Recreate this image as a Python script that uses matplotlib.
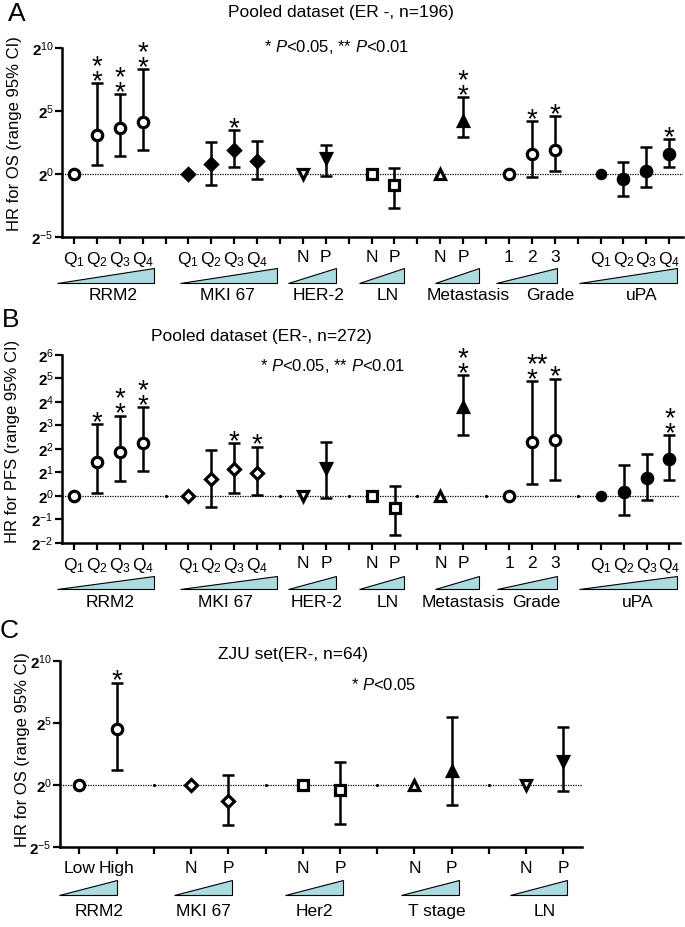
import matplotlib
matplotlib.use("Agg")
import matplotlib.pyplot as plt
import matplotlib.transforms as mtransforms
from matplotlib.patches import Polygon

plt.rcParams["font.family"] = ["Liberation Sans", "DejaVu Sans"]
plt.rcParams["mathtext.fontset"] = "custom"
plt.rcParams["mathtext.rm"] = "Liberation Sans"
plt.rcParams["mathtext.it"] = "Liberation Sans:italic"
plt.rcParams["mathtext.bf"] = "Liberation Sans:bold"

Q4 = ["Q$_1$", "Q$_2$", "Q$_3$", "Q$_4$"]
NP = ["N", "P"]

# ---- panel A: pooled dataset, OS (ER-, n=196)
a_groups = ["RRM2", "MKI 67", "HER-2", "LN", "Metastasis", "Grade", "uPA"]
a_levels = [Q4, Q4, NP, NP, NP, ["1", "2", "3"], Q4]
a_hr = [[1, 8.6, 12.6, 17.8], [1, 1.74, 3.73, 2.0], [1, 2.41], [1, 0.55],
        [1, 18.4], [1, 2.97, 3.81], [1, 0.75, 1.15, 2.97]]
a_lo = [[1, 1.62, 2.73, 3.81], [1, 0.56, 1.49, 0.76], [1, 0.88], [1, 0.15],
        [1, 7.46], [1, 0.87, 1.15], [1, 0.30, 0.50, 1.44]]
a_hi = [[1, 147, 81.6, 315], [1, 5.66, 11.3, 6.28], [1, 5.03], [1, 1.37],
        [1, 68.6], [1, 18.4, 24.3], [1, 1.95, 4.53, 6.82]]
a_stars = [["", "**", "**", "**"], ["", "", "*", ""], ["", ""], ["", ""],
           ["", "**"], ["", "*", "*"], ["", "", "", "*"]]

# ---- panel B: pooled dataset, PFS (ER-, n=272)
b_groups = a_groups
b_levels = a_levels
b_hr = [[1, 2.73, 3.66, 4.72], [1, 1.64, 2.19, 1.95], [1, 2.30], [1, 0.69],
        [1, 13.8], [1, 4.92, 5.21], [1, 1.13, 1.67, 2.95]]
b_lo = [[1, 1.08, 1.53, 2.06], [1, 0.71, 1.10, 1.02], [1, 0.93], [1, 0.31],
        [1, 6.06], [1, 1.43, 1.59], [1, 0.56, 0.88, 1.59]]
b_hi = [[1, 8.28, 10.6, 13.8], [1, 3.84, 4.69, 4.26], [1, 4.92], [1, 1.32],
        [1, 35.0], [1, 29.6, 31.8], [1, 2.46, 3.41, 5.98]]
b_stars = [["", "*", "**", "**"], ["", "", "*", "*"], ["", ""], ["", ""],
           ["", "**"], ["", "***", "*"], ["", "", "", "**"]]

# ---- panel C: ZJU set, OS (ER-, n=64)
c_groups = ["RRM2", "MKI 67", "Her2", "T stage", "LN"]
c_levels = [["Low", "High"], NP, NP, NP, NP]
c_hr = [[1, 22.6], [1, 0.41], [1, 0.76], [1, 2.11], [1, 3.71]]
c_lo = [[1, 2.23], [1, 0.106], [1, 0.112], [1, 0.325], [1, 0.69]]
c_hi = [[1, 302], [1, 1.69], [1, 3.51], [1, 44.9], [1, 25.6]]
c_stars = [["", "*"], ["", ""], ["", ""], ["", ""], ["", ""]]

# marker styles
ab_marker = ["o", "D", "v", "s", "^", "o", "o"]
a_filled = [[0, 0, 0, 0], [1, 1, 1, 1], [0, 1], [0, 0], [0, 1], [0, 0, 0], [1, 1, 1, 1]]
b_filled = [[0, 0, 0, 0], [0, 0, 0, 0], [0, 1], [0, 0], [0, 1], [0, 0, 0], [1, 1, 1, 1]]
c_marker = ["o", "D", "s", "^", "v"]
c_filled = [[0, 0], [0, 0], [0, 0], [0, 1], [0, 1]]

W, H = 685, 927
fig = plt.figure(figsize=(W / 100, H / 100), dpi=100)
TRI = "#aadbe0"
STAR_FS = 20
STAR_BASE = -8.5   # points above the cap
STAR_LS = 0.45     # line spacing of stacked stars


def make_ax(l, r, t, b):
    return fig.add_axes([l / W, 1 - b / H, (r - l) / W, (b - t) / H]), b - t


def put_stars(ax, x, y, s):
    n = len(s)
    if n == 3:
        # two on top, one below (left-aligned)
        ax.annotate("**\n*", (x, y), xytext=(-3.9, STAR_BASE), textcoords="offset points",
                    ha="left", va="bottom", multialignment="left",
                    fontsize=STAR_FS, linespacing=STAR_LS, annotation_clip=False)
        return
    txt = "*\n*" if n == 2 else "*"
    ax.annotate(txt, (x, y), xytext=(0, STAR_BASE), textcoords="offset points",
                ha="center", va="bottom", fontsize=STAR_FS,
                linespacing=STAR_LS, annotation_clip=False)


def draw_panel(ax, hpx, levels, hr, lo, hi, stars, markers, filled,
               xlim, ylim, yticks, tri_spans, grp_names, grp_x, offs, gap_dots):
    blend = mtransforms.blended_transform_factory(ax.transData, ax.transAxes)
    ax.set_yscale("log", base=2)
    ax.axhline(1, color="black", ls=(0, (1, 1)), lw=0.9, zorder=1)
    pos = 0
    ticks, labels, gaps = [], [], []
    for g in range(len(levels)):
        for j, lab in enumerate(levels[g]):
            h, l, u = hr[g][j], lo[g][j], hi[g][j]
            mfc = "black" if filled[g][j] else "white"
            ms = 7.5
            if markers[g] == "D":
                ms = 6.5
            if markers[g] == "o" and filled[g][j] and j == 0:
                ms = 6
            if u != l:
                ax.errorbar(pos, h, yerr=[[h - l], [u - h]], fmt="none",
                            ecolor="black", elinewidth=1.8, capsize=4.5,
                            capthick=1.8, zorder=2)
            ax.plot(pos, h, marker=markers[g], ms=ms, mfc=mfc, mec="black",
                    mew=2.3, ls="none", zorder=3)
            if stars[g][j]:
                put_stars(ax, pos, u, stars[g][j])
            ticks.append(pos)
            labels.append(lab)
            pos += 1
        if g < len(levels) - 1:
            ticks.append(pos)
            labels.append("")
            gaps.append(pos)
            pos += 1
    if gap_dots:
        ax.plot(gaps, [1] * len(gaps), ".", color="black", ms=2.5, zorder=2)

    ax.set_xlim(*xlim)
    ax.set_ylim(*ylim)
    ax.set_xticks(ticks)
    ax.set_xticklabels(labels, fontsize=12.5)
    ax.set_yticks([2.0 ** e for e in yticks])
    ax.set_yticklabels([r"$\mathbf{2}^{%d}$" % e for e in yticks], fontsize=11)
    ax.minorticks_off()
    for sp in ["top", "right"]:
        ax.spines[sp].set_visible(False)
    for sp in ["left", "bottom"]:
        ax.spines[sp].set_linewidth(1.8)
    ax.tick_params(axis="x", length=5, width=1.6, pad=offs[0])
    ax.tick_params(axis="y", length=5, width=1.6, pad=1)

    yb = -offs[2] / hpx
    yt = -offs[1] / hpx
    for x0, x1 in tri_spans:
        ax.add_patch(Polygon([(x0, yb), (x1, yb), (x1, yt)], closed=True,
                             facecolor=TRI, edgecolor="black", lw=0.8,
                             transform=blend, clip_on=False))
    for name, gx in zip(grp_names, grp_x):
        ax.text(gx, -offs[3] / hpx, name, transform=blend, ha="center",
                va="center", fontsize=12.5)


ab_tri = [(-0.75, 3.5), (4.65, 8.85), (9.35, 11.45), (12.45, 14.4),
          (15.75, 17.7), (18.45, 21.1), (22.05, 26.35)]
ab_lab_x = [1.7, 6.7, 10.7, 13.7, 17.2, 20.8, 24.8]

# panel A
axA, hA = make_ax(62, 683, 48, 237)
draw_panel(axA, hA, a_levels, a_hr, a_lo, a_hi, a_stars, ab_marker, a_filled,
           (-0.52, 26.6), (2 ** -5, 2 ** 10), [-5, 0, 5, 10], ab_tri,
           a_groups, ab_lab_x, (4.5, 31, 46, 58), False)

# panel B
axB, hB = make_ax(62, 680, 355, 542.7)
draw_panel(axB, hB, b_levels, b_hr, b_lo, b_hi, b_stars, ab_marker, b_filled,
           (-0.52, 26.46), (2 ** -2, 2 ** 6), list(range(-2, 7)), ab_tri,
           b_groups, [1.6, 6.6, 10.6, 13.7, 17.0, 20.2, 24.6], (4.5, 33, 46, 60), True)

# panel C
axC, hC = make_ax(60, 582, 660.7, 846.7)
draw_panel(axC, hC, c_levels, c_hr, c_lo, c_hi, c_stars, c_marker, c_filled,
           (-0.52, 13.5), (2 ** -5, 2 ** 10), [-5, 0, 5, 10],
           [(-0.54, 1.0), (2.55, 4.1), (5.53, 7.08), (8.64, 10.19), (11.56, 13.1)],
           c_groups, [0.53, 3.33, 6.3, 9.6, 12.5], (5, 33, 48, 65), True)


def ftext(x, y, s, **kw):
    fig.text(x / W, 1 - y / H, s, ha="center", va="center", **kw)


ftext(17, 14, "A", fontsize=19)
ftext(11, 320, "B", fontsize=19)
ftext(9, 631, "C", fontsize=19)

ftext(341, 13, "Pooled dataset (ER -, n=196)", fontsize=12.5)
ftext(261, 336, "Pooled dataset (ER-, n=272)", fontsize=12.5)
ftext(293, 654, "ZJU set(ER-, n=64)", fontsize=12.5)

ftext(337, 47, r"* $\it{P}$<0.05, ** $\it{P}$<0.01", fontsize=12)
ftext(333, 366, r"* $\it{P}$<0.05, ** $\it{P}$<0.01", fontsize=12)
ftext(384, 685, r"* $\it{P}$<0.05", fontsize=12)

ftext(15, 134, "HR for OS (range 95% CI)", fontsize=12, rotation=90)
ftext(13, 441, "HR for PFS (range 95% CI)", fontsize=12, rotation=90)
ftext(23, 750, "HR for OS (range 95% CI)", fontsize=12, rotation=90)

fig.savefig("out.png", dpi=100)
